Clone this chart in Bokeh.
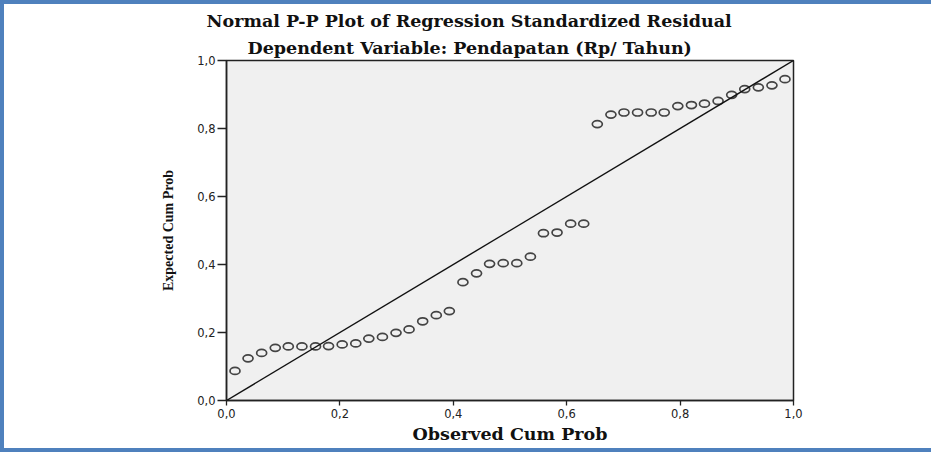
from bokeh.plotting import figure
from bokeh.models import Range1d, FixedTicker, Slope, Title, ColumnDataSource
from bokeh.embed import file_html
from bokeh.resources import INLINE

title_line1 = "Normal P-P Plot of Regression Standardized Residual"
title_line2 = "Dependent Variable: Pendapatan (Rp/ Tahun)"
x_label = "Observed Cum Prob"
y_label = "Expected Cum Prob"
tick_values = [0.0, 0.2, 0.4, 0.6, 0.8, 1.0]
tick_labels = ["0,0", "0,2", "0,4", "0,6", "0,8", "1,0"]

observed_cum_prob = [0.015, 0.038, 0.062, 0.086, 0.109, 0.133, 0.157, 0.180, 0.204, 0.228,
                     0.251, 0.275, 0.299, 0.322, 0.346, 0.370, 0.393, 0.417, 0.441, 0.464,
                     0.488, 0.512, 0.536, 0.559, 0.583, 0.607, 0.630, 0.654, 0.678, 0.701,
                     0.725, 0.749, 0.772, 0.796, 0.820, 0.843, 0.867, 0.891, 0.914, 0.938,
                     0.962, 0.985]
expected_cum_prob = [0.087, 0.124, 0.140, 0.155, 0.159, 0.159, 0.159, 0.160, 0.165, 0.168,
                     0.182, 0.187, 0.199, 0.209, 0.233, 0.251, 0.263, 0.348, 0.374, 0.402,
                     0.404, 0.404, 0.423, 0.492, 0.494, 0.520, 0.520, 0.813, 0.841, 0.847,
                     0.847, 0.847, 0.847, 0.866, 0.869, 0.873, 0.881, 0.899, 0.916, 0.921,
                     0.927, 0.945]

BLUE = "#4F81BD"

p = figure(width=931, height=452, output_backend="svg", toolbar_location=None,
           x_range=Range1d(0, 1), y_range=Range1d(0, 1),
           min_border_left=222, min_border_right=142, min_border_top=56, min_border_bottom=56,
           background_fill_color="#F0F0F0", border_fill_color="white")
p.styles = {"border-top": f"4px solid {BLUE}", "border-left": f"4px solid {BLUE}",
            "border-bottom": f"4px solid {BLUE}"}
p.outline_line_color = "#222222"
p.outline_line_width = 1.5
p.xgrid.visible = False
p.ygrid.visible = False

overrides = dict(zip(tick_values, tick_labels))
for ax in (p.xaxis[0], p.yaxis[0]):
    ax.ticker = FixedTicker(ticks=tick_values)
    ax.major_label_overrides = overrides
    ax.axis_line_color = "#222222"
    ax.axis_line_width = 1.5
    ax.major_tick_line_color = "#222222"
    ax.major_tick_line_width = 1.3
    ax.minor_tick_line_color = None
    ax.major_tick_in = 0
    ax.major_label_text_font = "DejaVu Sans"
    ax.major_label_text_font_size = "11.5px"
    ax.major_label_text_color = "#222222"
    ax.axis_label_text_color = "#111111"

p.xaxis.major_tick_out = 5
p.xaxis.major_label_standoff = 3
p.xaxis.axis_label = x_label
p.xaxis.axis_label_text_font = "DejaVu Serif"
p.xaxis.axis_label_text_font_style = "bold"
p.xaxis.axis_label_text_font_size = "17.5px"
p.xaxis.axis_label_standoff = 3

p.yaxis.major_tick_out = 9
p.yaxis.major_label_standoff = 2
p.yaxis.axis_label = y_label
p.yaxis.axis_label_text_font = "Liberation Serif"
p.yaxis.axis_label_text_font_style = "bold"
p.yaxis.axis_label_text_font_size = "14px"
p.yaxis.axis_label_standoff = 18

p.add_layout(Slope(gradient=1, y_intercept=0, line_color="#111111", line_width=1.4))

src = ColumnDataSource(dict(x=observed_cum_prob, y=expected_cum_prob))
p.ellipse(x="x", y="y", width=10, height=7, width_units="screen", height_units="screen",
          source=src, fill_color=None, line_color="#444444", line_width=1.7)

for txt, off, so in ((title_line2, 21, 5), (title_line1, -20, 6)):
    p.add_layout(Title(text=txt, align="left", offset=off, standoff=so,
                       text_font="DejaVu Serif", text_font_style="bold",
                       text_font_size="17.5px", text_color="#111111"), "above")

open("out.html", "w").write(file_html(p, INLINE))
